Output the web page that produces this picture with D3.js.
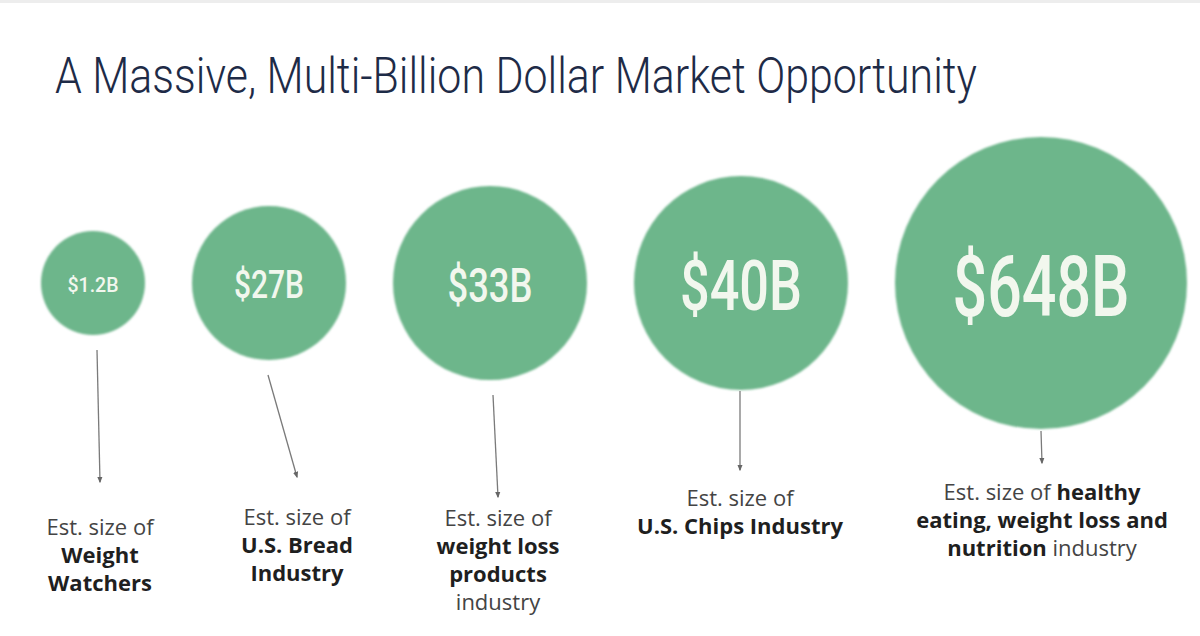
<!DOCTYPE html>
<html>
<head>
<meta charset="utf-8">
<script src="https://cdn.jsdelivr.net/npm/d3@7"></script>
<style>
  html, body { margin: 0; padding: 0; background: #ffffff; }
  svg { display: block; }
</style>
</head>
<body>
<svg id="chart" width="1200" height="636"></svg>
<script>
// ---- data ----
const title = "A Massive, Multi-Billion Dollar Market Opportunity";
const categories = ["Weight Watchers", "U.S. Bread Industry", "Weight loss products", "U.S. Chips Industry", "Healthy eating, weight loss and nutrition"];
const valuesB = [1.2, 27, 33, 40, 648];
const valueLabels = ["$1.2B", "$27B", "$33B", "$40B", "$648B"];
const descriptions = [
  ["Est. size of", "**Weight**", "**Watchers**"],
  ["Est. size of", "**U.S. Bread**", "**Industry**"],
  ["Est. size of", "**weight loss**", "**products**", "industry"],
  ["Est. size of", "**U.S. Chips Industry**"],
  ["Est. size of **healthy**", "**eating, weight loss and**", "**nutrition** industry"]
];

// ---- layout (not data) ----
const W = 1200, H = 636;
const cy = 283, leftEdge = 41, gapBetween = 47;
const labelDx = [7, 28, 8, -1, 1];
const labelTopBaseline = [535, 525, 526, 506, 500];
const arrowStartGap = [15, 15, 15, 1, 2];
const arrowStartDx = [4, -1, 3, -1, 0];
const arrowEndY = [482, 477, 497, 470, 463];
const lineH = 28;

const svg = d3.select("#chart");
svg.append("rect").attr("width", W).attr("height", H).attr("fill", "#ffffff");
svg.append("rect").attr("width", W).attr("height", 3).attr("fill", "#ededed");

const defs = svg.append("defs");
defs.append("filter").attr("id", "soft").append("feGaussianBlur").attr("stdDeviation", 0.8);
defs.append("marker")
  .attr("id", "arrow").attr("viewBox", "0 0 10 10").attr("refX", 8).attr("refY", 5)
  .attr("markerWidth", 5).attr("markerHeight", 5).attr("orient", "auto-start-reverse")
  .attr("markerUnits", "strokeWidth")
  .append("path").attr("d", "M0,1 L10,5 L0,9 z").attr("fill", "#666");

// ---- scales ----
const rScale = d3.scaleLinear().domain(valuesB).range([52, 77, 97, 107, 146]);
const fScale = d3.scaleLinear().domain(valuesB).range([20, 38, 48, 70, 86]);
const wScale = d3.scaleLinear().domain(valuesB).range([51, 70, 85, 122, 177]);

// cumulative x layout (circles packed left-to-right with equal gaps)
const cx = [];
let edge = leftEdge;
valuesB.forEach((v, i) => {
  const r = rScale(v);
  cx.push(edge + r);
  edge += 2 * r + gapBetween;
});

// ---- title ----
svg.append("text")
  .attr("x", 55).attr("y", 93)
  .attr("font-family", "Roboto, 'DejaVu Sans', sans-serif")
  .attr("font-weight", 300)
  .attr("font-size", 50)
  .attr("fill", "#1e2b47")
  .attr("textLength", 922)
  .attr("lengthAdjust", "spacingAndGlyphs")
  .text(title);

// ---- bubbles ----
const g = svg.append("g");
const items = valuesB.map((v, i) => ({ v, i, cat: categories[i], label: valueLabels[i] }));

g.selectAll("circle.bubble").data(items).join("circle")
  .attr("class", "bubble")
  .attr("cx", d => cx[d.i]).attr("cy", cy)
  .attr("r", d => rScale(d.v))
  .attr("fill", "#6db68b")
  .attr("filter", "url(#soft)");

g.selectAll("text.val").data(items).join("text")
  .attr("class", "val")
  .attr("x", d => cx[d.i])
  .attr("y", d => cy + 2 + fScale(d.v) * 0.355)
  .attr("text-anchor", "middle")
  .attr("font-family", "Roboto, 'DejaVu Sans', sans-serif")
  .attr("font-weight", 500)
  .attr("font-size", d => fScale(d.v))
  .attr("fill", "#f2f7ee")
  .attr("textLength", d => wScale(d.v))
  .attr("lengthAdjust", "spacingAndGlyphs")
  .text(d => d.label);

// ---- arrows ----
g.selectAll("line.arrow").data(items).join("line")
  .attr("class", "arrow")
  .attr("x1", d => cx[d.i] + arrowStartDx[d.i])
  .attr("y1", d => cy + rScale(d.v) + arrowStartGap[d.i])
  .attr("x2", d => cx[d.i] + labelDx[d.i])
  .attr("y2", d => arrowEndY[d.i])
  .attr("stroke", "#7a7a7a")
  .attr("stroke-width", 1.3)
  .attr("marker-end", "url(#arrow)");

// ---- descriptions ----
items.forEach(d => {
  const t = g.append("text")
    .attr("x", cx[d.i] + labelDx[d.i])
    .attr("y", labelTopBaseline[d.i])
    .attr("text-anchor", "middle")
    .attr("font-family", "'Open Sans', 'Noto Sans', sans-serif")
    .attr("font-size", 22);
  descriptions[d.i].forEach((line, li) => {
    const parts = line.split(/(\*\*[^*]+\*\*)/).filter(s => s.length);
    parts.forEach((p, pi) => {
      const bold = p.startsWith("**");
      const ts = t.append("tspan")
        .text(bold ? p.slice(2, -2) : p)
        .attr("font-weight", bold ? 700 : 400)
        .attr("fill", bold ? "#1f1f1f" : "#444444");
      if (pi === 0) ts.attr("x", cx[d.i] + labelDx[d.i]).attr("dy", li === 0 ? 0 : lineH);
    });
  });
});
</script>
</body>
</html>
